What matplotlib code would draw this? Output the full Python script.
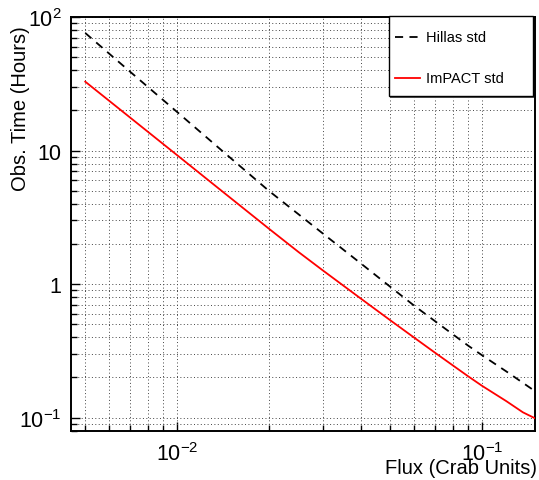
import matplotlib
matplotlib.use("Agg")
import matplotlib.pyplot as plt
from matplotlib.ticker import FixedLocator, NullFormatter, FixedFormatter
from matplotlib.patches import Rectangle
from matplotlib.lines import Line2D

plt.rcParams['font.family'] = ['Liberation Sans', 'DejaVu Sans']
plt.rcParams['mathtext.fontset'] = 'custom'
plt.rcParams['mathtext.rm'] = 'Liberation Sans'
plt.rcParams['mathtext.it'] = 'Liberation Sans:italic'

# Data
hillas_flux = [0.005, 0.007, 0.01, 0.014, 0.02, 0.03, 0.04, 0.05,
               0.06, 0.07, 0.08, 0.09, 0.10, 0.12, 0.149]
hillas_time = [75.9, 39.1, 19.45, 10.03, 4.99, 2.40, 1.43, 0.954,
               0.687, 0.529, 0.422, 0.346, 0.293, 0.222, 0.158]

impact_flux = [0.005, 0.01, 0.014, 0.02, 0.025, 0.03, 0.04, 0.05,
               0.06, 0.07, 0.08, 0.09, 0.10, 0.12, 0.136, 0.149]
impact_time = [32.8, 9.24, 4.99, 2.60, 1.74, 1.27, 0.78, 0.536,
               0.396, 0.307, 0.247, 0.204, 0.173, 0.133, 0.1097, 0.099]

series_labels = ["Hillas std", "ImPACT std"]

y_major = [0.1, 1, 10, 100]
y_major_labels = [r"$\mathregular{10^{-1}}$", "1", "10", r"$\mathregular{10^{2}}$"]
x_major = [0.01, 0.1]
x_major_labels = [r"$\mathregular{10^{-2}}$", r"$\mathregular{10^{-1}}$"]

W, H = 539, 481


def fx(x):
    return x / W


def fy(y):
    return 1 - y / H


fig = plt.figure(figsize=(W / 100, H / 100), dpi=100)
ax = fig.add_axes([fx(71), fy(432), (535 - 71) / W, (432 - 18) / H])
ax.set_xscale('log')
ax.set_yscale('log')
ax.set_xlim(0.00449, 0.149)
ax.set_ylim(0.0795, 100)

hillas_style = dict(color='black', lw=1.3, ls=(0, (4.5, 3.5)))
impact_style = dict(color='#ff0000', lw=1.3, ls='-')
ax.plot(hillas_flux, hillas_time, zorder=3, **hillas_style)
ax.plot(impact_flux, impact_time, zorder=3, **impact_style)

# ticks
x_minor = [m * 10.0 ** e for e in (-3, -2, -1) for m in range(2, 10)]
y_minor = [m * 10.0 ** e for e in (-2, -1, 0, 1) for m in range(2, 10)]
ax.xaxis.set_major_locator(FixedLocator(x_major))
ax.xaxis.set_major_formatter(FixedFormatter(x_major_labels))
ax.xaxis.set_minor_locator(FixedLocator(x_minor))
ax.xaxis.set_minor_formatter(NullFormatter())
ax.yaxis.set_major_locator(FixedLocator(y_major))
ax.yaxis.set_major_formatter(FixedFormatter(y_major_labels))
ax.yaxis.set_minor_locator(FixedLocator(y_minor))
ax.yaxis.set_minor_formatter(NullFormatter())

ax.tick_params(which='both', direction='in', width=1.0, colors='black')
ax.tick_params(which='major', length=6.5, labelsize=15.5)
ax.tick_params(which='minor', length=4.5)
ax.tick_params(axis='x', which='major', pad=8)
ax.tick_params(axis='y', which='major', pad=7)

ax.grid(True, which='both', color='#444444', lw=0.7, ls=(0, (1, 2.5)))
ax.set_axisbelow(True)
for s in ax.spines.values():
    s.set_linewidth(1.4)

fig.text(fx(537), fy(469), "Flux (Crab Units)", ha='right', va='center',
         fontsize=14.5)
fig.text(fx(21), fy(26), "Obs. Time (Hours)", ha='center', va='top',
         rotation=90, fontsize=14.5)

# legend box (ROOT style, thin shadow)
fig.patches.append(Rectangle((fx(390), fy(98.5)), (534 - 390) / W, (98.5 - 18) / H,
                             transform=fig.transFigure, facecolor='#555555',
                             edgecolor='none', zorder=9))
fig.patches.append(Rectangle((fx(389), fy(97)), (533 - 389) / W, (97 - 17) / H,
                             transform=fig.transFigure, facecolor='white',
                             edgecolor='black', lw=1.0, zorder=10))
entries = [(series_labels[0], hillas_style, 38), (series_labels[1], impact_style, 79)]
for label, style, yy in entries:
    fig.lines.append(Line2D([fx(395), fx(420)], [fy(yy), fy(yy)],
                            transform=fig.transFigure, zorder=11, **style))
    fig.text(fx(426), fy(yy), label, ha='left', va='center', fontsize=10.5,
             zorder=11)

fig.savefig("out.png", dpi=100)
